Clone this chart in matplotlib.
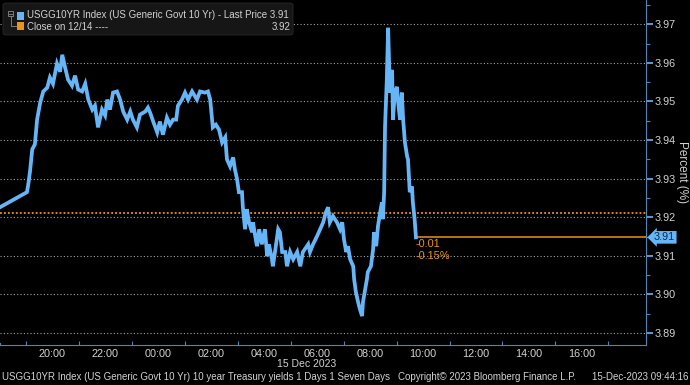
import matplotlib
matplotlib.use("Agg")
import matplotlib.pyplot as plt
import matplotlib.dates as mdates
import matplotlib.ticker as mticker
from matplotlib.patches import FancyBboxPatch, Rectangle
from matplotlib.lines import Line2D
import pandas as pd

# USGG10YR intraday
TIMES = [
    "12-14 18:02", "12-14 19:03", "12-14 19:06", "12-14 19:10", "12-14 19:15", "12-14 19:21",
    "12-14 19:26", "12-14 19:33", "12-14 19:40", "12-14 19:49", "12-14 19:55", "12-14 20:02",
    "12-14 20:11", "12-14 20:18", "12-14 20:23", "12-14 20:29", "12-14 20:36", "12-14 20:45",
    "12-14 20:52", "12-14 20:59", "12-14 21:08", "12-14 21:15", "12-14 21:22", "12-14 21:31",
    "12-14 21:37", "12-14 21:44", "12-14 21:53", "12-14 22:00", "12-14 22:05", "12-14 22:11",
    "12-14 22:18", "12-14 22:27", "12-14 22:34", "12-14 22:41", "12-14 22:50", "12-14 22:57",
    "12-14 23:03", "12-14 23:12", "12-14 23:19", "12-14 23:31", "12-14 23:37", "12-14 23:42",
    "12-14 23:49", "12-14 23:58",
    "12-15 00:04", "12-15 00:11", "12-15 00:20", "12-15 00:27", "12-15 00:34", "12-15 00:41",
    "12-15 00:45", "12-15 00:54", "12-15 01:01", "12-15 01:08", "12-15 01:17", "12-15 01:28",
    "12-15 01:35", "12-15 01:46", "12-15 01:53", "12-15 01:58", "12-15 02:04", "12-15 02:11",
    "12-15 02:18", "12-15 02:25", "12-15 02:32", "12-15 02:36", "12-15 02:43", "12-15 02:50",
    "12-15 02:54", "12-15 02:59", "12-15 03:03", "12-15 03:10", "12-15 03:12", "12-15 03:17",
    "12-15 03:21", "12-15 03:26", "12-15 03:33", "12-15 03:35", "12-15 03:40", "12-15 03:44",
    "12-15 03:49", "12-15 03:55", "12-15 04:02", "12-15 04:07", "12-15 04:11", "12-15 04:18",
    "12-15 04:20", "12-15 04:25", "12-15 04:32", "12-15 04:36", "12-15 04:41", "12-15 04:48",
    "12-15 04:52", "12-15 04:59", "12-15 05:06", "12-15 05:15", "12-15 05:22", "12-15 05:28",
    "12-15 05:40", "12-15 05:44", "12-15 05:51", "12-15 06:00", "12-15 06:07", "12-15 06:14",
    "12-15 06:20", "12-15 06:25", "12-15 06:29", "12-15 06:36", "12-15 06:45", "12-15 06:52",
    "12-15 06:57", "12-15 07:01", "12-15 07:06", "12-15 07:10", "12-15 07:15", "12-15 07:22",
    "12-15 07:24", "12-15 07:28", "12-15 07:33", "12-15 07:37", "12-15 07:42", "12-15 07:44",
    "12-15 07:49", "12-15 07:53", "12-15 07:55", "12-15 08:02", "12-15 08:07", "12-15 08:09",
    "12-15 08:14", "12-15 08:18", "12-15 08:23", "12-15 08:27", "12-15 08:29", "12-15 08:32",
    "12-15 08:34", "12-15 08:38", "12-15 08:41", "12-15 08:43", "12-15 08:45", "12-15 08:50",
    "12-15 08:52", "12-15 08:56", "12-15 09:01", "12-15 09:03", "12-15 09:08", "12-15 09:12",
    "12-15 09:15", "12-15 09:19", "12-15 09:24", "12-15 09:26", "12-15 09:30", "12-15 09:35",
    "12-15 09:37", "12-15 09:41", "12-15 09:44",
]
YIELDS = [
    3.9226, 3.9265, 3.9285, 3.9319, 3.9376, 3.9389,
    3.9453, 3.9497, 3.9526, 3.9536, 3.9562, 3.9546,
    3.9598, 3.9577, 3.9621, 3.9590, 3.9557, 3.9541,
    3.9567, 3.9531, 3.9526, 3.9546, 3.9505, 3.9479,
    3.9489, 3.9433, 3.9479, 3.9464, 3.9505, 3.9479,
    3.9523, 3.9526, 3.9505, 3.9474, 3.9453, 3.9474,
    3.9453, 3.9433, 3.9466, 3.9474, 3.9484, 3.9471,
    3.9448, 3.9420,
    3.9448, 3.9414, 3.9458, 3.9440, 3.9453, 3.9453,
    3.9489, 3.9505, 3.9523, 3.9505, 3.9526, 3.9505,
    3.9526, 3.9523, 3.9526, 3.9505, 3.9433, 3.9440,
    3.9427, 3.9394, 3.9407, 3.9350, 3.9332, 3.9355,
    3.9324, 3.9298, 3.9265, 3.9265, 3.9226, 3.9169,
    3.9221, 3.9187, 3.9161, 3.9187, 3.9151, 3.9125,
    3.9169, 3.9130, 3.9169, 3.9099, 3.9130, 3.9091,
    3.9073, 3.9112, 3.9169, 3.9161, 3.9110, 3.9110,
    3.9073, 3.9110, 3.9091, 3.9110, 3.9073, 3.9110,
    3.9130, 3.9110, 3.9130, 3.9151, 3.9169, 3.9187,
    3.9213, 3.9226, 3.9187, 3.9203, 3.9187, 3.9169,
    3.9187, 3.9143, 3.9110, 3.9125, 3.9091, 3.9073,
    3.9040, 3.9006, 3.8980, 3.8962, 3.8944, 3.8980,
    3.9014, 3.9040, 3.9058, 3.9073, 3.9117, 3.9161,
    3.9125, 3.9177, 3.9213, 3.9239, 3.9195, 3.9265,
    3.9435, 3.9557, 3.9691, 3.9608, 3.9523, 3.9582,
    3.9453, 3.9523, 3.9538, 3.9505, 3.9453, 3.9523,
    3.9453, 3.9394, 3.9358, 3.9350, 3.9265, 3.9280,
    3.9239, 3.9195, 3.9148,
]
PREV_CLOSE = 3.921
CHANGE_LABELS = ["-0.01", "-0.15%"]
X_START = "2023-12-14 18:02"
X_END = "2023-12-15 18:25"

BLUE = "#66b6f7"
ORANGE = "#ef9316"
AXIS_BLUE = "#4f86b8"
TEXT = "#d2d2d2"

W, H = 690, 385
plt.rcParams["font.family"] = ["Liberation Sans", "DejaVu Sans"]
FS = 7.0

times = pd.to_datetime(["2023-" + t for t in TIMES])
last_t, last_v = times[-1], YIELDS[-1]


def px(x, y):
    return x / W, 1 - y / H


def hour_label(x, pos):
    d = mdates.num2date(x)
    # Bloomberg leaves the last slot (18:00) unlabelled
    return "" if d.hour == 18 else d.strftime("%H:%M")


fig = plt.figure(figsize=(W / 100, H / 100), dpi=100, facecolor="black")
ax = fig.add_axes([0, 40 / H, 646 / W, 345 / H])
ax.set_facecolor("black")

ax.set_xlim(pd.Timestamp(X_START), pd.Timestamp(X_END))
ax.set_ylim(3.8869, 3.9763)

# grid
for v in [3.89, 3.90, 3.91, 3.92, 3.93, 3.94, 3.95, 3.96, 3.97]:
    ax.axhline(v, color="#a5a5a5", lw=0.8, ls=(0, (1, 2)), zorder=1)
ax.axhline(PREV_CLOSE, color=ORANGE, lw=1.3, ls=(0, (1, 1.2)), zorder=2)

ax.plot(times, YIELDS, color=BLUE, lw=2.7, solid_joinstyle="miter", zorder=4)
ax.hlines(last_v, last_t, pd.Timestamp(X_END), color=ORANGE, lw=1.1, zorder=3)

ax.annotate(CHANGE_LABELS[0], (last_t, last_v), xytext=(0, -7), textcoords="offset pixels",
            color=ORANGE, fontsize=FS + 0.8, ha="left", va="center")
ax.annotate(CHANGE_LABELS[1], (last_t, last_v), xytext=(0, -19), textcoords="offset pixels",
            color=ORANGE, fontsize=FS + 0.8, ha="left", va="center")

# axes styling
ax.spines["top"].set_visible(False)
ax.spines["right"].set_color(AXIS_BLUE)
ax.spines["bottom"].set_color(AXIS_BLUE)
ax.spines["left"].set_color(AXIS_BLUE)
ax.spines["left"].set_bounds(3.8869, 3.8875)

ax.yaxis.tick_right()
ax.yaxis.set_major_locator(mticker.MultipleLocator(0.01))
ax.yaxis.set_minor_locator(mticker.MultipleLocator(0.005))
ax.yaxis.set_major_formatter(mticker.FormatStrFormatter("%.2f"))
ax.tick_params(axis="y", which="major", direction="out", length=5, width=1.2,
               color=BLUE, labelcolor=TEXT, labelsize=FS + 0.8, pad=1)
ax.tick_params(axis="y", which="minor", direction="out", length=3, width=0.8, color=AXIS_BLUE)

ax.xaxis.set_major_locator(mdates.HourLocator(byhour=range(1, 24, 2)))
ax.xaxis.set_minor_locator(mdates.HourLocator(byhour=range(0, 24, 2)))
ax.xaxis.set_major_formatter(mticker.NullFormatter())
ax.xaxis.set_minor_formatter(mticker.FuncFormatter(hour_label))
ax.tick_params(axis="x", which="minor", length=0, labelcolor=TEXT, labelsize=FS + 0.8, pad=3)
ax.tick_params(axis="x", which="major", direction="in", length=3, width=0.8, color=AXIS_BLUE)

ax.yaxis.set_label_position("right")
ax.set_ylabel("Percent (%)", color=TEXT, fontsize=FS + 1.5, rotation=270, labelpad=9)

# last price tag
ax.annotate(f"{last_v:.2f}", (1, last_v), xycoords=("axes fraction", "data"),
            xytext=(8, 0), textcoords="offset pixels", ha="left", va="center",
            color="#0b2a4a", fontsize=FS + 0.8,
            bbox=dict(boxstyle="larrow,pad=0.12", fc=BLUE, ec="none"))

# legend box
fig.patches.append(FancyBboxPatch(px(3, 35), 290 / W, 32 / H, boxstyle="round,pad=0,rounding_size=0.006",
                                  transform=fig.transFigure, fc="#161616", ec="#2a2a2a", lw=0.6))
fig.patches.append(Rectangle(px(8, 16), 5 / W, 5 / H, transform=fig.transFigure,
                             fc="none", ec="#8a8a8a", lw=0.6))
fig.lines.append(Line2D([9 / W, 12 / W], [1 - 13.5 / H, 1 - 13.5 / H], transform=fig.transFigure,
                        color="#8a8a8a", lw=0.6))
fig.lines.append(Line2D([10.5 / W, 10.5 / W, 16 / W], [1 - 16 / H, 1 - 26 / H, 1 - 26 / H],
                        transform=fig.transFigure, color="#8a8a8a", lw=0.6))
fig.patches.append(Rectangle(px(17, 19.5), 7 / W, 7 / H, transform=fig.transFigure, fc=BLUE, ec="none"))
fig.patches.append(Rectangle(px(17, 29.5), 7 / W, 7 / H, transform=fig.transFigure, fc=ORANGE, ec="none"))
fig.text(*px(27, 15.5), f"USGG10YR Index (US Generic Govt 10 Yr) - Last Price {last_v:.2f}",
         color=TEXT, fontsize=FS, va="center")
fig.text(*px(27, 26.5), "Close on 12/14 ----", color=TEXT, fontsize=FS, va="center")
fig.text(*px(291, 26.5), f"{PREV_CLOSE:.2f}", color=TEXT, fontsize=FS, va="center", ha="right")

# footer
fig.text(*px(307, 364), "15 Dec 2023", color=TEXT, fontsize=FS + 0.5, ha="center", va="center")
fig.text(*px(2, 377), "USGG10YR Index (US Generic Govt 10 Yr) 10 year Treasury yields 1 Days 1 Seven Days",
         color=TEXT, fontsize=FS, va="center")
fig.text(*px(398, 377), "Copyright\u00a9 2023 Bloomberg Finance L.P.", color=TEXT, fontsize=FS, va="center")
fig.text(*px(688, 377), "15-Dec-2023 09:44:16", color=TEXT, fontsize=FS, va="center", ha="right")

fig.savefig("out.png", dpi=100, facecolor="black")
